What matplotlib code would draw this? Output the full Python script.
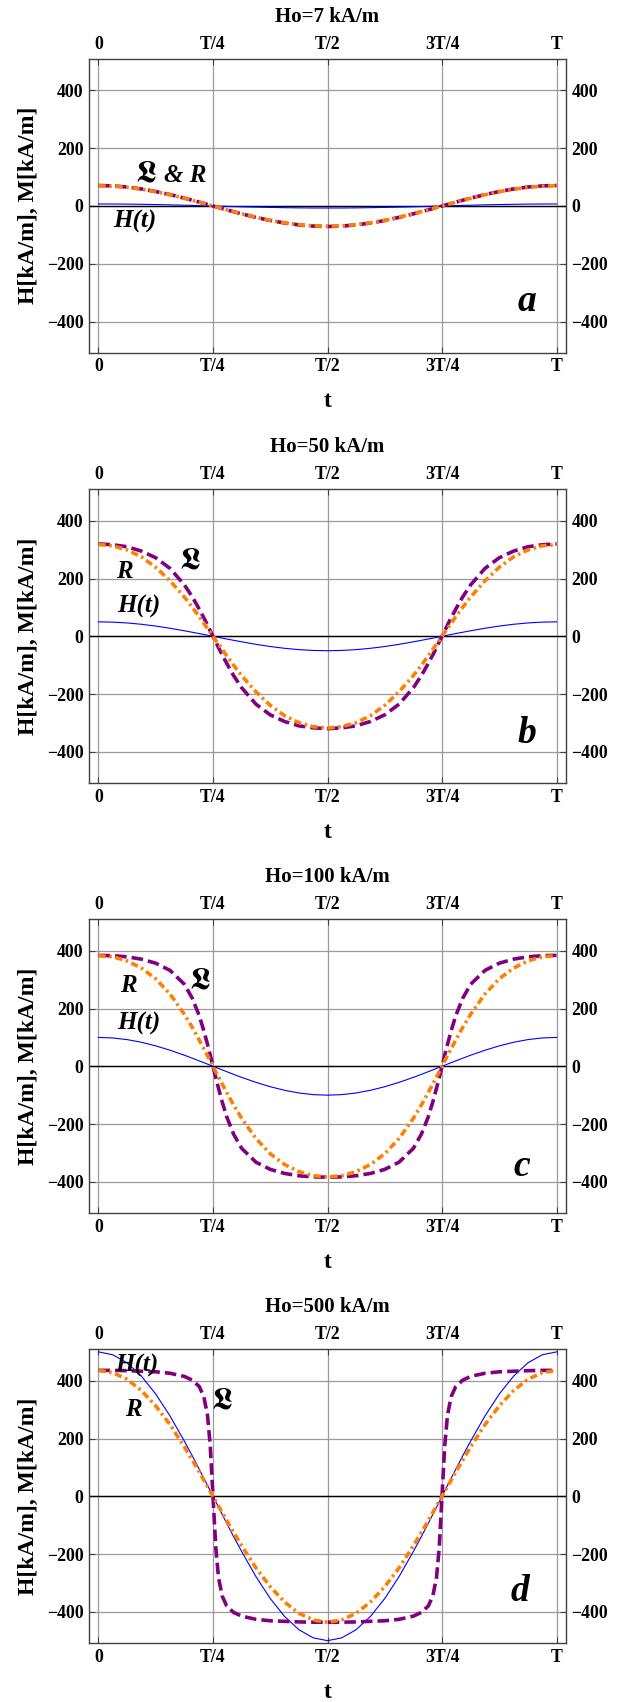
#!/usr/bin/env python3
"""Field H(t) and magnetization M(t) over one period for four field amplitudes.

Curves were read off the reference figure on a fixed grid of phase points
(fractions of the period T), denser around T/4 and 3T/4 where the
Langevin curve switches sign.
"""

from __future__ import annotations

import matplotlib

matplotlib.use("Agg")

import matplotlib.pyplot as plt

plt.rcParams["font.family"] = ["Liberation Serif", "DejaVu Serif"]
plt.rcParams["font.weight"] = "bold"

# phase points, fraction of T
T_FRAC = [
    0, 0.03125, 0.0625, 0.09375, 0.125, 0.15625, 0.1875, 0.205, 0.22, 0.23, 0.238, 0.244, 0.25,
    0.256, 0.262, 0.27, 0.28, 0.295, 0.3125, 0.34375, 0.375, 0.40625, 0.4375, 0.46875, 0.5,
    0.53125, 0.5625, 0.59375, 0.625, 0.65625, 0.6875, 0.705, 0.72, 0.73, 0.738, 0.744, 0.75,
    0.756, 0.762, 0.77, 0.78, 0.795, 0.8125, 0.84375, 0.875, 0.90625, 0.9375, 0.96875, 1.0,
]

TITLES = ["Ho=7 kA/m", "Ho=50 kA/m", "Ho=100 kA/m", "Ho=500 kA/m"]
LETTERS = ["a", "b", "c", "d"]

X_TICKS = [0, 0.25, 0.5, 0.75, 1.0]
X_TICK_LABELS = ["0", "T/4", "T/2", "3T/4", "T"]
Y_TICKS = [-400, -200, 0, 200, 400]

# panel a, Ho = 7 kA/m
H_A = [
    7, 6.9, 6.5, 5.8, 4.9, 3.9, 2.7, 2.0, 1.3, 0.9, 0.5, 0.3, 0,
    -0.3, -0.5, -0.9, -1.3, -2.0, -2.7, -3.9, -4.9, -5.8, -6.5, -6.9, -7,
    -6.9, -6.5, -5.8, -4.9, -3.9, -2.7, -2.0, -1.3, -0.9, -0.5, -0.3, 0,
    0.3, 0.5, 0.9, 1.3, 2.0, 2.7, 3.9, 4.9, 5.8, 6.5, 6.9, 7,
]
L_A = [
    71, 69.6, 65.6, 59.0, 50.2, 39.4, 27.2, 19.8, 13.3, 8.9, 5.3, 2.7, 0,
    -2.7, -5.3, -8.9, -13.3, -19.8, -27.2, -39.4, -50.2, -59.0, -65.6, -69.6, -71,
    -69.6, -65.6, -59.0, -50.2, -39.4, -27.2, -19.8, -13.3, -8.9, -5.3, -2.7, 0,
    2.7, 5.3, 8.9, 13.3, 19.8, 27.2, 39.4, 50.2, 59.0, 65.6, 69.6, 71,
]
R_A = [
    70, 68.7, 64.7, 58.2, 49.5, 38.9, 26.8, 19.5, 13.1, 8.8, 5.3, 2.6, 0,
    -2.6, -5.3, -8.8, -13.1, -19.5, -26.8, -38.9, -49.5, -58.2, -64.7, -68.7, -70,
    -68.7, -64.7, -58.2, -49.5, -38.9, -26.8, -19.5, -13.1, -8.8, -5.3, -2.6, 0,
    2.6, 5.3, 8.8, 13.1, 19.5, 26.8, 38.9, 49.5, 58.2, 64.7, 68.7, 70,
]

# panel b, Ho = 50 kA/m
H_B = [
    50, 49.0, 46.2, 41.6, 35.4, 27.8, 19.1, 13.9, 9.4, 6.3, 3.8, 1.9, 0,
    -1.9, -3.8, -6.3, -9.4, -13.9, -19.1, -27.8, -35.4, -41.6, -46.2, -49.0, -50,
    -49.0, -46.2, -41.6, -35.4, -27.8, -19.1, -13.9, -9.4, -6.3, -3.8, -1.9, 0,
    1.9, 3.8, 6.3, 9.4, 13.9, 19.1, 27.8, 35.4, 41.6, 46.2, 49.0, 50,
]
L_B = [
    320, 317, 310, 295, 272, 235, 178, 136, 94, 64, 39, 19, 0,
    -19, -39, -64, -94, -136, -178, -235, -272, -295, -310, -317, -320,
    -317, -310, -295, -272, -235, -178, -136, -94, -64, -39, -19, 0,
    19, 39, 64, 94, 136, 178, 235, 272, 295, 310, 317, 320,
]
R_B = [
    318, 313, 299, 275, 239, 192, 136, 100, 68, 45, 27, 14, 0,
    -14, -27, -45, -68, -100, -136, -192, -239, -275, -299, -313, -318,
    -313, -299, -275, -239, -192, -136, -100, -68, -45, -27, -14, 0,
    14, 27, 45, 68, 100, 136, 192, 239, 275, 299, 313, 318,
]

# panel c, Ho = 100 kA/m
H_C = [
    100, 98.1, 92.4, 83.1, 70.7, 55.6, 38.3, 27.9, 18.7, 12.5, 7.5, 3.8, 0,
    -3.8, -7.5, -12.5, -18.7, -27.9, -38.3, -55.6, -70.7, -83.1, -92.4, -98.1, -100,
    -98.1, -92.4, -83.1, -70.7, -55.6, -38.3, -27.9, -18.7, -12.5, -7.5, -3.8, 0,
    3.8, 7.5, 12.5, 18.7, 27.9, 38.3, 55.6, 70.7, 83.1, 92.4, 98.1, 100,
]
L_C = [
    384, 383, 379, 371, 357, 332, 284, 235, 175, 123, 76, 39, 0,
    -39, -76, -123, -175, -235, -284, -332, -357, -371, -379, -383, -384,
    -383, -379, -371, -357, -332, -284, -235, -175, -123, -76, -39, 0,
    39, 76, 123, 175, 235, 284, 332, 357, 371, 379, 383, 384,
]
R_C = [
    383, 379, 365, 340, 303, 250, 180, 134, 91, 61, 37, 19, 0,
    -19, -37, -61, -91, -134, -180, -250, -303, -340, -365, -379, -383,
    -379, -365, -340, -303, -250, -180, -134, -91, -61, -37, -19, 0,
    19, 37, 61, 91, 134, 180, 250, 303, 340, 365, 379, 383,
]

# panel d, Ho = 500 kA/m
H_D = [
    500, 490, 462, 416, 354, 278, 191, 139.5, 93.7, 62.7, 37.7, 18.8, 0,
    -18.8, -37.7, -62.7, -93.7, -139.5, -191, -278, -354, -416, -462, -490, -500,
    -490, -462, -416, -354, -278, -191, -139.5, -93.7, -62.7, -37.7, -18.8, 0,
    18.8, 37.7, 62.7, 93.7, 139.5, 191, 278, 354, 416, 462, 490, 500,
]
L_D = [
    436, 436, 435, 433, 431, 426, 415, 402, 380, 345, 281, 176, 0,
    -176, -281, -345, -380, -402, -415, -426, -431, -433, -435, -436, -436,
    -436, -435, -433, -431, -426, -415, -402, -380, -345, -281, -176, 0,
    176, 281, 345, 380, 402, 415, 426, 431, 433, 435, 436, 436,
]
R_D = [
    436, 428, 405, 366, 313, 248, 171, 125, 84, 56, 34, 17, 0,
    -17, -34, -56, -84, -125, -171, -248, -313, -366, -405, -428, -436,
    -428, -405, -366, -313, -248, -171, -125, -84, -56, -34, -17, 0,
    17, 34, 56, 84, 125, 171, 248, 313, 366, 405, 428, 436,
]

BLUE = "#0000ff"
PURPLE = "#800080"
ORANGE = "#ff8000"
GRID = "#9a9a9a"
FRAME = "#404040"

# bold Fraktur capital L; only the STIX fonts carry it
FRAK = "\U0001D577"
FRAK_FAMILY = ["STIXGeneral", "FreeSerif", "DejaVu Sans"]

# curve label placements (t/T, value) per panel
CURVE_LABELS = [
    [("& R", 0.190, 107), ("H(t)", 0.079, -54)],
    [("R", 0.057, 225), ("H(t)", 0.087, 104)],
    [("R", 0.065, 280), ("H(t)", 0.087, 148)],
    [("R", 0.076, 300), ("H(t)", 0.084, 453)],
]
FRAK_POS = [(0.104, 110), (0.201, 262), (0.221, 297), (0.269, 330)]
LETTER_POS = [(0.936, -332), (0.936, -337), (0.925, -346), (0.920, -330)]

FIG_W, FIG_H = 630, 1702
AX_LEFT, AX_W, AX_H = 89, 477, 294
AX_TOPS = [58.7, 489, 919, 1349]


def draw_panel(ax, idx, h, l, r):
    ax.set_xlim(-0.0207, 1.0207)
    ax.set_ylim(-508, 510)
    ax.set_xticks(X_TICKS)
    ax.set_xticklabels(X_TICK_LABELS)
    ax.set_yticks(Y_TICKS)
    ax.set_axisbelow(True)
    ax.grid(True, color=GRID, lw=0.9)
    ax.axhline(0, color="black", lw=1.0, zorder=2)

    ax.plot(T_FRAC, h, color=BLUE, lw=0.8, zorder=3)
    ax.plot(T_FRAC, l, color=PURPLE, lw=2.6, dashes=(3.2, 1.4), zorder=4)
    ax.plot(T_FRAC, r, color=ORANGE, lw=2.6, dashes=(2.0, 1.0, 0.7, 1.0), zorder=5)

    ax.tick_params(
        axis="both", direction="in", length=4, width=0.8, color=FRAME,
        top=True, right=True, labeltop=True, labelright=True,
        labelsize=12.8, pad=4,
    )
    for spine in ax.spines.values():
        spine.set_color(FRAME)
        spine.set_linewidth(1.0)

    ax.text(0.5, 1 + 41.7 / AX_H, TITLES[idx], transform=ax.transAxes,
            ha="center", va="center", fontsize=15, fontweight="bold")
    ax.text(0.5, -49 / AX_H, "t", transform=ax.transAxes,
            ha="center", va="center", fontsize=17, fontweight="bold")
    ax.text(-61 / AX_W, 0.5, "H[kA/m], M[kA/m]", transform=ax.transAxes,
            ha="center", va="center", rotation=90, fontsize=17, fontweight="bold")

    for text, tx, ty in CURVE_LABELS[idx]:
        ax.text(tx, ty, text, ha="center", va="center", fontsize=18,
                fontweight="bold", fontstyle="italic", zorder=6)

    fx, fy = FRAK_POS[idx]
    ax.text(fx, fy, FRAK, ha="center", va="center", fontsize=22,
            family=FRAK_FAMILY, fontweight="bold", zorder=6)

    lx, ly = LETTER_POS[idx]
    ax.text(lx, ly, LETTERS[idx], ha="center", va="center", fontsize=27,
            fontweight="bold", fontstyle="italic", zorder=6)


def main() -> int:
    fig = plt.figure(figsize=(FIG_W / 100, FIG_H / 100), dpi=100)
    series = [(H_A, L_A, R_A), (H_B, L_B, R_B), (H_C, L_C, R_C), (H_D, L_D, R_D)]
    for idx, (h, l, r) in enumerate(series):
        top = AX_TOPS[idx]
        ax = fig.add_axes([
            AX_LEFT / FIG_W,
            1 - (top + AX_H) / FIG_H,
            AX_W / FIG_W,
            AX_H / FIG_H,
        ])
        draw_panel(ax, idx, h, l, r)
    fig.savefig("out.png", dpi=100)
    plt.close(fig)
    return 0


if __name__ == "__main__":
    raise SystemExit(main())
